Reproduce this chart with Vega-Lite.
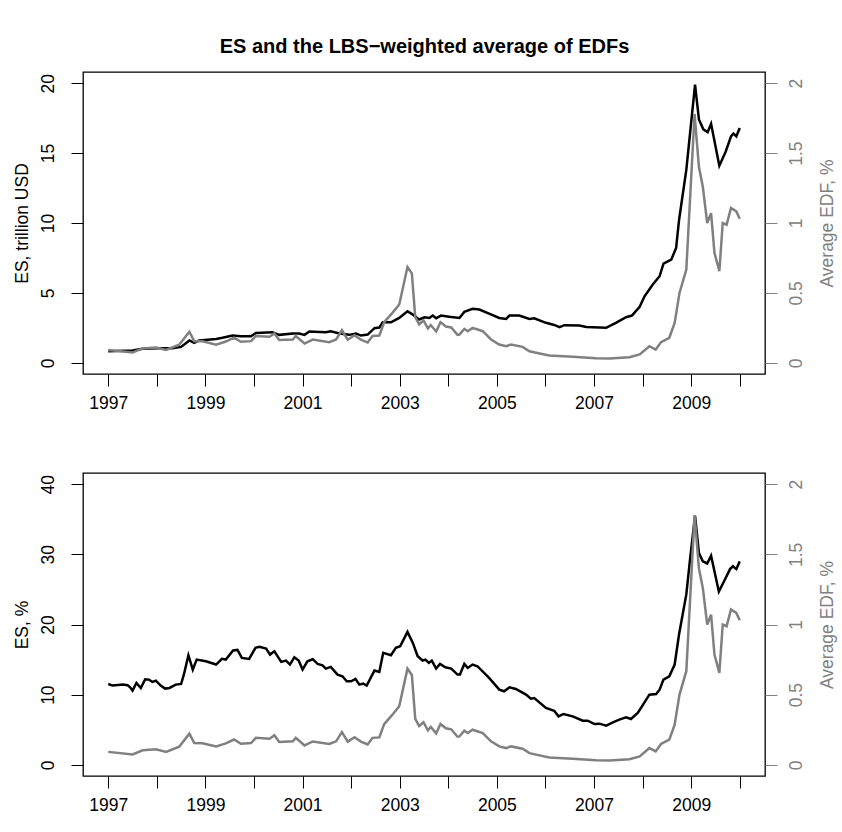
{
  "$schema": "https://vega.github.io/schema/vega-lite/v6.json",
  "padding": {"left": 12, "top": 37, "right": 2, "bottom": 5},
  "background": "white",
  "title": {
    "text": "ES and the LBS−weighted average of EDFs",
    "font": "Liberation Sans",
    "fontSize": 20,
    "fontWeight": "bold",
    "anchor": "middle",
    "offset": 14,
    "color": "black"
  },
  "config": {
    "view": {"stroke": "black", "strokeWidth": 1.3},
    "font": "Liberation Sans",
    "axis": {
      "grid": false,
      "domain": false,
      "tickSize": 12,
      "tickWidth": 1,
      "labelFont": "Liberation Sans",
      "labelFontSize": 17.5,
      "titleFont": "Liberation Sans",
      "titleFontSize": 17.5,
      "titleFontWeight": "normal",
      "labelFlush": false,
      "labelOverlap": false
    }
  },
  "datasets": {
    "es_usd": [
      {"t": 1997.0, "v": 0.83}, {"t": 1997.5, "v": 0.88}, {"t": 1997.71, "v": 1.0}, {"t": 1998.05, "v": 1.05},
      {"t": 1998.32, "v": 1.05}, {"t": 1998.5, "v": 1.14}, {"t": 1998.67, "v": 1.6}, {"t": 1998.77, "v": 1.43},
      {"t": 1998.87, "v": 1.6}, {"t": 1999.22, "v": 1.71}, {"t": 1999.35, "v": 1.79}, {"t": 1999.56, "v": 1.95},
      {"t": 1999.73, "v": 1.9}, {"t": 1999.94, "v": 1.9}, {"t": 2000.04, "v": 2.14}, {"t": 2000.38, "v": 2.19},
      {"t": 2000.52, "v": 2.0}, {"t": 2000.8, "v": 2.1}, {"t": 2000.93, "v": 2.1}, {"t": 2001.04, "v": 2.0},
      {"t": 2001.14, "v": 2.24}, {"t": 2001.48, "v": 2.19}, {"t": 2001.58, "v": 2.26}, {"t": 2001.76, "v": 2.1},
      {"t": 2001.96, "v": 2.0}, {"t": 2002.1, "v": 2.1}, {"t": 2002.2, "v": 1.95}, {"t": 2002.34, "v": 2.02},
      {"t": 2002.48, "v": 2.48}, {"t": 2002.58, "v": 2.52}, {"t": 2002.65, "v": 2.9}, {"t": 2002.82, "v": 2.9},
      {"t": 2002.99, "v": 3.21}, {"t": 2003.16, "v": 3.69}, {"t": 2003.27, "v": 3.45}, {"t": 2003.4, "v": 3.1},
      {"t": 2003.51, "v": 3.26}, {"t": 2003.61, "v": 3.21}, {"t": 2003.68, "v": 3.38}, {"t": 2003.75, "v": 3.19},
      {"t": 2003.85, "v": 3.38}, {"t": 2004.02, "v": 3.29}, {"t": 2004.23, "v": 3.21}, {"t": 2004.33, "v": 3.64},
      {"t": 2004.5, "v": 3.86}, {"t": 2004.64, "v": 3.81}, {"t": 2004.84, "v": 3.52}, {"t": 2005.05, "v": 3.21},
      {"t": 2005.19, "v": 3.14}, {"t": 2005.26, "v": 3.38}, {"t": 2005.46, "v": 3.38}, {"t": 2005.67, "v": 3.14},
      {"t": 2005.77, "v": 3.19}, {"t": 2006.01, "v": 2.86}, {"t": 2006.18, "v": 2.71}, {"t": 2006.29, "v": 2.55},
      {"t": 2006.39, "v": 2.69}, {"t": 2006.7, "v": 2.67}, {"t": 2006.84, "v": 2.57}, {"t": 2007.11, "v": 2.52},
      {"t": 2007.25, "v": 2.5}, {"t": 2007.45, "v": 2.86}, {"t": 2007.66, "v": 3.26}, {"t": 2007.78, "v": 3.38},
      {"t": 2007.94, "v": 4.0}, {"t": 2008.04, "v": 4.76}, {"t": 2008.21, "v": 5.6}, {"t": 2008.35, "v": 6.19},
      {"t": 2008.43, "v": 7.1}, {"t": 2008.59, "v": 7.38}, {"t": 2008.69, "v": 8.21}, {"t": 2008.75, "v": 10.2},
      {"t": 2008.9, "v": 13.8}, {"t": 2009.08, "v": 19.9}, {"t": 2009.16, "v": 17.4}, {"t": 2009.25, "v": 16.7},
      {"t": 2009.34, "v": 16.5}, {"t": 2009.41, "v": 17.1}, {"t": 2009.58, "v": 14.1}, {"t": 2009.71, "v": 15.1},
      {"t": 2009.82, "v": 16.2}, {"t": 2009.87, "v": 16.4}, {"t": 2009.93, "v": 16.2}, {"t": 2010.0, "v": 16.8}
    ],
    "es_pct": [
      {"t": 1997.0, "v": 11.52}, {"t": 1997.09, "v": 11.29}, {"t": 1997.3, "v": 11.43}, {"t": 1997.4, "v": 11.33},
      {"t": 1997.45, "v": 11.05}, {"t": 1997.5, "v": 10.57}, {"t": 1997.58, "v": 11.67}, {"t": 1997.67, "v": 10.95},
      {"t": 1997.76, "v": 12.19}, {"t": 1997.84, "v": 12.14}, {"t": 1997.91, "v": 11.81}, {"t": 1997.98, "v": 12.0},
      {"t": 1998.08, "v": 11.29}, {"t": 1998.17, "v": 10.86}, {"t": 1998.26, "v": 10.95}, {"t": 1998.39, "v": 11.43},
      {"t": 1998.5, "v": 11.52}, {"t": 1998.56, "v": 12.95}, {"t": 1998.65, "v": 15.62}, {"t": 1998.74, "v": 13.57},
      {"t": 1998.82, "v": 15.0}, {"t": 1999.01, "v": 14.76}, {"t": 1999.22, "v": 14.29}, {"t": 1999.34, "v": 15.1},
      {"t": 1999.42, "v": 15.0}, {"t": 1999.57, "v": 16.29}, {"t": 1999.66, "v": 16.38}, {"t": 1999.75, "v": 15.24},
      {"t": 1999.9, "v": 15.1}, {"t": 2000.03, "v": 16.67}, {"t": 2000.11, "v": 16.81}, {"t": 2000.25, "v": 16.57},
      {"t": 2000.33, "v": 15.71}, {"t": 2000.42, "v": 16.19}, {"t": 2000.56, "v": 14.67}, {"t": 2000.66, "v": 14.86},
      {"t": 2000.74, "v": 14.29}, {"t": 2000.83, "v": 15.33}, {"t": 2000.92, "v": 14.86}, {"t": 2001.0, "v": 13.57},
      {"t": 2001.1, "v": 14.76}, {"t": 2001.21, "v": 15.05}, {"t": 2001.31, "v": 14.38}, {"t": 2001.41, "v": 14.19},
      {"t": 2001.48, "v": 13.71}, {"t": 2001.58, "v": 13.95}, {"t": 2001.72, "v": 12.86}, {"t": 2001.82, "v": 12.62},
      {"t": 2001.91, "v": 11.9}, {"t": 2002.0, "v": 11.9}, {"t": 2002.09, "v": 12.24}, {"t": 2002.17, "v": 11.43},
      {"t": 2002.25, "v": 11.57}, {"t": 2002.32, "v": 11.29}, {"t": 2002.48, "v": 13.43}, {"t": 2002.58, "v": 13.24},
      {"t": 2002.66, "v": 15.95}, {"t": 2002.82, "v": 15.62}, {"t": 2002.92, "v": 16.67}, {"t": 2003.01, "v": 16.9},
      {"t": 2003.16, "v": 18.95}, {"t": 2003.27, "v": 17.38}, {"t": 2003.37, "v": 15.48}, {"t": 2003.47, "v": 14.86},
      {"t": 2003.53, "v": 15.0}, {"t": 2003.6, "v": 14.52}, {"t": 2003.66, "v": 14.86}, {"t": 2003.75, "v": 13.71},
      {"t": 2003.83, "v": 14.38}, {"t": 2003.94, "v": 13.9}, {"t": 2004.06, "v": 13.71}, {"t": 2004.19, "v": 12.86},
      {"t": 2004.24, "v": 12.86}, {"t": 2004.33, "v": 14.38}, {"t": 2004.4, "v": 13.81}, {"t": 2004.5, "v": 14.29},
      {"t": 2004.6, "v": 14.05}, {"t": 2004.84, "v": 12.38}, {"t": 2005.05, "v": 10.71}, {"t": 2005.15, "v": 10.48},
      {"t": 2005.26, "v": 11.05}, {"t": 2005.39, "v": 10.81}, {"t": 2005.6, "v": 10.0}, {"t": 2005.7, "v": 9.43},
      {"t": 2005.77, "v": 9.52}, {"t": 2006.01, "v": 8.1}, {"t": 2006.18, "v": 7.71}, {"t": 2006.27, "v": 6.9},
      {"t": 2006.37, "v": 7.24}, {"t": 2006.56, "v": 6.9}, {"t": 2006.77, "v": 6.29}, {"t": 2006.87, "v": 6.29},
      {"t": 2007.01, "v": 5.81}, {"t": 2007.11, "v": 5.86}, {"t": 2007.25, "v": 5.57}, {"t": 2007.39, "v": 6.05},
      {"t": 2007.52, "v": 6.43}, {"t": 2007.66, "v": 6.76}, {"t": 2007.76, "v": 6.52}, {"t": 2007.9, "v": 7.38},
      {"t": 2008.0, "v": 8.48}, {"t": 2008.14, "v": 10.0}, {"t": 2008.28, "v": 10.1}, {"t": 2008.35, "v": 10.71},
      {"t": 2008.43, "v": 12.14}, {"t": 2008.55, "v": 12.62}, {"t": 2008.66, "v": 14.29}, {"t": 2008.75, "v": 18.57},
      {"t": 2008.9, "v": 24.29}, {"t": 2008.98, "v": 29.5}, {"t": 2009.08, "v": 35.5}, {"t": 2009.16, "v": 30.2},
      {"t": 2009.24, "v": 29.0}, {"t": 2009.33, "v": 28.7}, {"t": 2009.41, "v": 29.8}, {"t": 2009.57, "v": 24.7},
      {"t": 2009.68, "v": 26.2}, {"t": 2009.8, "v": 27.9}, {"t": 2009.86, "v": 28.3}, {"t": 2009.93, "v": 27.9},
      {"t": 2010.0, "v": 29.0}
    ],
    "edf": [
      {"t": 1997.0, "v": 0.092}, {"t": 1997.5, "v": 0.074}, {"t": 1997.71, "v": 0.103}, {"t": 1997.98, "v": 0.11},
      {"t": 1998.19, "v": 0.092}, {"t": 1998.46, "v": 0.129}, {"t": 1998.67, "v": 0.222}, {"t": 1998.77, "v": 0.155},
      {"t": 1998.94, "v": 0.154}, {"t": 1999.22, "v": 0.13}, {"t": 1999.42, "v": 0.152}, {"t": 1999.59, "v": 0.18},
      {"t": 1999.73, "v": 0.15}, {"t": 1999.94, "v": 0.155}, {"t": 2000.04, "v": 0.192}, {"t": 2000.32, "v": 0.186},
      {"t": 2000.42, "v": 0.21}, {"t": 2000.52, "v": 0.163}, {"t": 2000.8, "v": 0.167}, {"t": 2000.86, "v": 0.192},
      {"t": 2001.04, "v": 0.138}, {"t": 2001.21, "v": 0.166}, {"t": 2001.55, "v": 0.148}, {"t": 2001.69, "v": 0.167},
      {"t": 2001.81, "v": 0.233}, {"t": 2001.93, "v": 0.165}, {"t": 2002.07, "v": 0.197}, {"t": 2002.2, "v": 0.165},
      {"t": 2002.34, "v": 0.145}, {"t": 2002.44, "v": 0.192}, {"t": 2002.58, "v": 0.195}, {"t": 2002.68, "v": 0.29},
      {"t": 2002.85, "v": 0.357}, {"t": 2002.99, "v": 0.417}, {"t": 2003.16, "v": 0.685}, {"t": 2003.25, "v": 0.64},
      {"t": 2003.32, "v": 0.327}, {"t": 2003.4, "v": 0.276}, {"t": 2003.49, "v": 0.303}, {"t": 2003.58, "v": 0.246},
      {"t": 2003.64, "v": 0.27}, {"t": 2003.75, "v": 0.224}, {"t": 2003.84, "v": 0.291}, {"t": 2003.95, "v": 0.26},
      {"t": 2004.06, "v": 0.253}, {"t": 2004.19, "v": 0.2}, {"t": 2004.23, "v": 0.202}, {"t": 2004.33, "v": 0.243},
      {"t": 2004.4, "v": 0.226}, {"t": 2004.5, "v": 0.25}, {"t": 2004.71, "v": 0.226}, {"t": 2004.88, "v": 0.167},
      {"t": 2005.05, "v": 0.131}, {"t": 2005.19, "v": 0.119}, {"t": 2005.29, "v": 0.131}, {"t": 2005.53, "v": 0.114},
      {"t": 2005.67, "v": 0.083}, {"t": 2005.88, "v": 0.067}, {"t": 2006.08, "v": 0.052}, {"t": 2006.56, "v": 0.043},
      {"t": 2007.04, "v": 0.033}, {"t": 2007.32, "v": 0.031}, {"t": 2007.73, "v": 0.04}, {"t": 2007.94, "v": 0.06},
      {"t": 2008.14, "v": 0.119}, {"t": 2008.27, "v": 0.095}, {"t": 2008.38, "v": 0.148}, {"t": 2008.55, "v": 0.179},
      {"t": 2008.66, "v": 0.286}, {"t": 2008.76, "v": 0.5}, {"t": 2008.9, "v": 0.667}, {"t": 2009.07, "v": 1.78},
      {"t": 2009.16, "v": 1.4}, {"t": 2009.24, "v": 1.26}, {"t": 2009.33, "v": 1.0}, {"t": 2009.41, "v": 1.07},
      {"t": 2009.48, "v": 0.786}, {"t": 2009.58, "v": 0.655}, {"t": 2009.65, "v": 1.0}, {"t": 2009.73, "v": 0.988},
      {"t": 2009.82, "v": 1.107}, {"t": 2009.93, "v": 1.083}, {"t": 2010.0, "v": 1.03}
    ]
  },
  "spacing": 59,
  "vconcat": [
    {
      "width": 682,
      "height": 302,
      "layer": [
        {
          "data": {"name": "es_usd"},
          "mark": {"type": "line", "color": "black", "strokeWidth": 2.5, "clip": true},
          "encoding": {
            "x": {"field": "t", "type": "quantitative", "scale": {"domain": [1996.48, 2010.52], "nice": false, "zero": false},
              "axis": {"title": null, "values": [1997,1998,1999,2000,2001,2002,2003,2004,2005,2006,2007,2008,2009,2010],
                "labelExpr": "datum.value % 2 == 1 ? format(datum.value, 'd') : ''", "labelPadding": 8, "tickColor": "black", "labelColor": "black"}},
            "y": {"field": "v", "type": "quantitative", "scale": {"domain": [-0.8, 20.8], "nice": false, "zero": false},
              "axis": {"orient": "left", "title": "ES, trillion USD", "values": [0,5,10,15,20], "labelAngle": 270, "labelAlign": "center", "labelBaseline": "bottom",
                "labelPadding": 14, "titlePadding": 8, "tickColor": "black", "labelColor": "black", "titleColor": "black"}}
          }
        },
        {
          "data": {"name": "edf"},
          "mark": {"type": "line", "color": "#808080", "strokeWidth": 2.5, "clip": true},
          "encoding": {
            "x": {"field": "t", "type": "quantitative"},
            "y": {"field": "v", "type": "quantitative", "scale": {"domain": [-0.08, 2.08], "nice": false, "zero": false},
              "axis": {"orient": "right", "title": "Average EDF, %", "values": [0,0.5,1,1.5,2], "format": "~g", "labelAngle": 270, "labelAlign": "center", "labelBaseline": "top",
                "labelPadding": 10, "titleAngle": 270, "titleBaseline": "top", "titlePadding": 14, "tickColor": "#808080", "labelColor": "#808080", "titleColor": "#808080"}}
          }
        }
      ],
      "resolve": {"scale": {"y": "independent"}}
    },
    {
      "width": 682,
      "height": 303,
      "layer": [
        {
          "data": {"name": "es_pct"},
          "mark": {"type": "line", "color": "black", "strokeWidth": 2.5, "clip": true},
          "encoding": {
            "x": {"field": "t", "type": "quantitative", "scale": {"domain": [1996.48, 2010.52], "nice": false, "zero": false},
              "axis": {"title": null, "values": [1997,1998,1999,2000,2001,2002,2003,2004,2005,2006,2007,2008,2009,2010],
                "labelExpr": "datum.value % 2 == 1 ? format(datum.value, 'd') : ''", "labelPadding": 8, "tickColor": "black", "labelColor": "black"}},
            "y": {"field": "v", "type": "quantitative", "scale": {"domain": [-1.6, 41.6], "nice": false, "zero": false},
              "axis": {"orient": "left", "title": "ES, %", "values": [0,10,20,30,40], "labelAngle": 270, "labelAlign": "center", "labelBaseline": "bottom",
                "labelPadding": 14, "titlePadding": 8, "tickColor": "black", "labelColor": "black", "titleColor": "black"}}
          }
        },
        {
          "data": {"name": "edf"},
          "mark": {"type": "line", "color": "#808080", "strokeWidth": 2.5, "clip": true},
          "encoding": {
            "x": {"field": "t", "type": "quantitative"},
            "y": {"field": "v", "type": "quantitative", "scale": {"domain": [-0.08, 2.08], "nice": false, "zero": false},
              "axis": {"orient": "right", "title": "Average EDF, %", "values": [0,0.5,1,1.5,2], "format": "~g", "labelAngle": 270, "labelAlign": "center", "labelBaseline": "top",
                "labelPadding": 10, "titleAngle": 270, "titleBaseline": "top", "titlePadding": 14, "tickColor": "#808080", "labelColor": "#808080", "titleColor": "#808080"}}
          }
        }
      ],
      "resolve": {"scale": {"y": "independent"}}
    }
  ]
}
